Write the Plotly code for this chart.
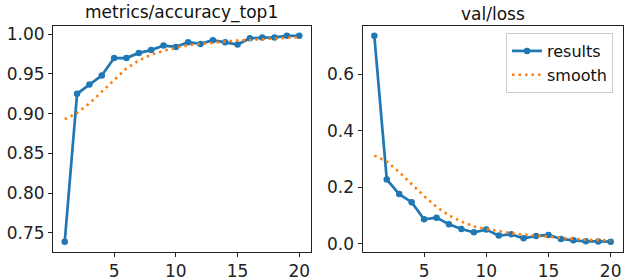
import plotly.graph_objects as go
from plotly.subplots import make_subplots

epochs = list(range(1, 21))

acc_results = [0.739, 0.925, 0.9366, 0.948, 0.970, 0.970, 0.9765, 0.980, 0.9857, 0.984,
               0.990, 0.9878, 0.9924, 0.990, 0.987, 0.995, 0.9958, 0.996, 0.9979, 0.998]
acc_smooth = [0.893, 0.901, 0.913, 0.928, 0.943, 0.957, 0.967, 0.974, 0.979, 0.983,
              0.986, 0.988, 0.989, 0.991, 0.992, 0.993, 0.994, 0.995, 0.9955, 0.996]

loss_results = [0.735, 0.228, 0.176, 0.1475, 0.0873, 0.093, 0.0696, 0.053, 0.041, 0.0507,
                0.0295, 0.034, 0.020, 0.028, 0.032, 0.0177, 0.013, 0.0094, 0.009, 0.008]
loss_smooth = [0.312, 0.291, 0.254, 0.212, 0.169, 0.131, 0.101, 0.079, 0.062, 0.053,
               0.045, 0.038, 0.033, 0.029, 0.024, 0.021, 0.018, 0.015, 0.0135, 0.012]

titles = ["metrics/accuracy_top1", "val/loss"]
x_ticks = [5, 10, 15, 20]
acc_ticks = [0.75, 0.80, 0.85, 0.90, 0.95, 1.00]
loss_ticks = [0.0, 0.2, 0.4, 0.6]

BLUE = "#1f77b4"
ORANGE = "#ff7f0e"
FONT = "DejaVu Sans"
FS = 17

fig = make_subplots(rows=1, cols=2)

def add_pair(res, smo, col, show):
    fig.add_trace(go.Scatter(x=epochs, y=res, mode="lines+markers", name="results",
                             line=dict(color=BLUE, width=2.7),
                             marker=dict(color=BLUE, size=6.5),
                             showlegend=show), row=1, col=col)
    fig.add_trace(go.Scatter(x=epochs, y=smo, mode="lines", name="smooth",
                             line=dict(color=ORANGE, width=2.6, dash="2.5px,4px"),
                             showlegend=show), row=1, col=col)

add_pair(acc_results, acc_smooth, 1, False)
add_pair(loss_results, loss_smooth, 2, True)

def pad_range(vals, frac=0.05):
    lo, hi = min(vals), max(vals)
    d = (hi - lo) * frac
    return [lo - d, hi + d]

xr = pad_range(epochs)
axis_common = dict(showline=True, mirror=True, linecolor="#222", linewidth=1,
                   ticks="outside", ticklen=4, tickwidth=1, tickcolor="#222",
                   showgrid=False, zeroline=False, automargin=False,
                   tickfont=dict(family=FONT, size=FS, color="#222"))

dom_top = 1 - 25.5 / 280
dom_bot = 1 - 252 / 280
fig.update_layout(
    xaxis=dict(domain=[53 / 630, 311 / 630], range=xr, tickvals=x_ticks, **axis_common),
    xaxis2=dict(domain=[362.5 / 630, 622.5 / 630], range=xr, tickvals=x_ticks, **axis_common),
    yaxis=dict(domain=[dom_bot, dom_top], range=pad_range(acc_results + acc_smooth),
               tickvals=acc_ticks, tickformat=".2f", **axis_common),
    yaxis2=dict(domain=[dom_bot, dom_top], range=pad_range(loss_results + loss_smooth),
                tickvals=loss_ticks, tickformat=".1f", **axis_common),
)

fig.add_annotation(text=titles[0], xref="paper", yref="paper", x=182 / 630, y=dom_top,
                   xanchor="center", yanchor="bottom", yshift=0, showarrow=False,
                   font=dict(family=FONT, size=FS, color="#111"))
fig.add_annotation(text=titles[1], xref="paper", yref="paper", x=492.5 / 630, y=dom_top,
                   xanchor="center", yanchor="bottom", yshift=0, showarrow=False,
                   font=dict(family=FONT, size=FS, color="#111"))

fig.update_layout(
    width=630, height=280,
    margin=dict(l=0, r=0, t=0, b=0, autoexpand=False),
    paper_bgcolor="white", plot_bgcolor="white",
    legend=dict(x=613 / 630, y=1 - 33 / 280, xanchor="right", yanchor="top",
                bgcolor="rgba(255,255,255,0.8)", bordercolor="#cccccc", borderwidth=1,
                font=dict(family=FONT, size=16, color="#111"), tracegroupgap=0),
)

fig.write_html("out.html", config={"displayModeBar": False},
               post_script="document.body.style.margin='0px';document.body.style.padding='0px';")
